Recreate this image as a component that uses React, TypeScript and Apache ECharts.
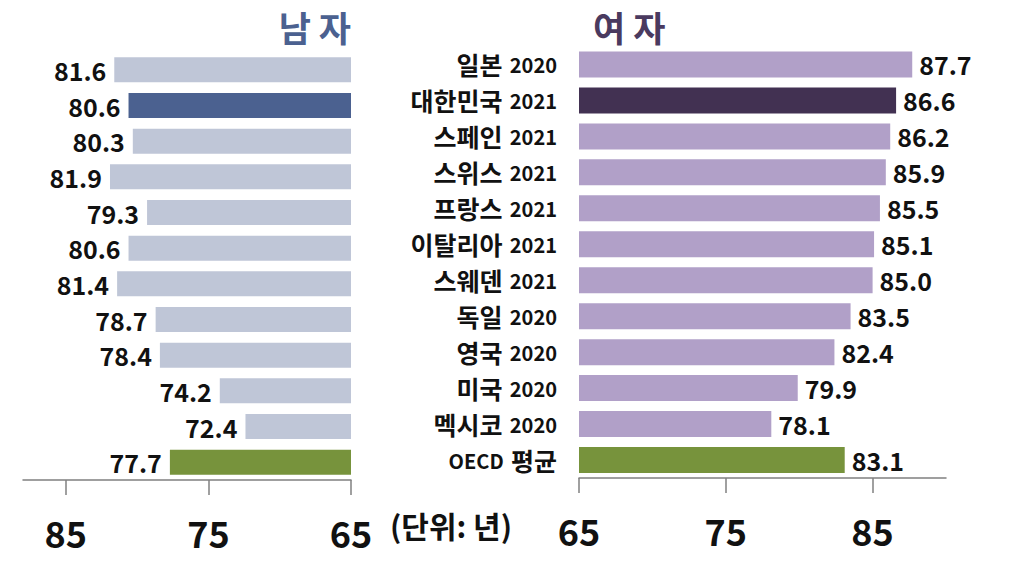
import React, { useEffect, useRef } from "react";
import * as echarts from "echarts";

const categories = [
  "일본 2020",
  "대한민국 2021",
  "스페인 2021",
  "스위스 2021",
  "프랑스 2021",
  "이탈리아 2021",
  "스웨덴 2021",
  "독일 2020",
  "영국 2020",
  "미국 2020",
  "멕시코 2020",
  "OECD 평균",
];
const maleValues = [81.6, 80.6, 80.3, 81.9, 79.3, 80.6, 81.4, 78.7, 78.4, 74.2, 72.4, 77.7];
const femaleValues = [87.7, 86.6, 86.2, 85.9, 85.5, 85.1, 85.0, 83.5, 82.4, 79.9, 78.1, 83.1];
const tickValues = [65, 75, 85];
const maleTitle = "남 자";
const femaleTitle = "여 자";
const unitText = "(단위: 년)";
const highlightIndex = 1;
const averageIndex = 11;

const FONT = "'Noto Sans CJK KR', 'Noto Sans', sans-serif";

export default function App() {
  const ref = useRef<HTMLDivElement>(null);

  useEffect(() => {
    document.body.style.margin = "0";
    if (!ref.current) return;
    const chart = echarts.init(ref.current, undefined, { renderer: "svg" });

    const colorFor = (i: number, light: string, dark: string) =>
      i === averageIndex ? "#77933C" : i === highlightIndex ? dark : light;

    const maleData = maleValues.map((v, i) => ({
      value: v,
      itemStyle: { color: colorFor(i, "#BFC6D7", "#4B6190") },
    }));
    const femaleData = femaleValues.map((v, i) => ({
      value: v,
      itemStyle: { color: colorFor(i, "#B1A0C8", "#423152") },
    }));

    const xAxisCommon = {
      type: "value" as const,
      min: 65,
      interval: 10,
      splitLine: { show: false },
      axisLine: { show: true, lineStyle: { color: "#808080", width: 1.5 } },
      axisTick: {
        show: true,
        customValues: tickValues,
        length: 15,
        lineStyle: { color: "#808080", width: 1.5 },
      },
      axisLabel: {
        customValues: tickValues,
        fontSize: 36,
        fontWeight: "bold" as const,
        color: "#111",
        fontFamily: FONT,
        margin: 34,
      },
    };

    const valueLabel = {
      show: true,
      fontSize: 25,
      fontWeight: "bold" as const,
      fontFamily: FONT,
      color: "#111",
      formatter: (p: any) => Number(p.value).toFixed(1),
    };

    chart.setOption({
      animation: false,
      backgroundColor: "#fff",
      grid: [
        { left: 23, top: 52, width: 328, height: 428 },
        { left: 579, top: 46.5, width: 367, height: 431.5 },
      ],
      xAxis: [
        { ...xAxisCommon, gridIndex: 0, inverse: true, max: 88 },
        { ...xAxisCommon, gridIndex: 1, max: 90 },
      ],
      yAxis: [
        {
          gridIndex: 0,
          type: "category",
          inverse: true,
          data: categories,
          show: false,
        },
        {
          gridIndex: 1,
          type: "category",
          inverse: true,
          data: categories,
          axisLine: { show: false },
          axisTick: { show: false },
          axisLabel: {
            margin: 22,
            color: "#111",
            formatter: (v: string) => {
              const i = v.lastIndexOf(" ");
              const a = v.slice(0, i);
              const b = v.slice(i + 1);
              if (/^[A-Za-z]/.test(a)) return `{y|${a}} {k2|${b}}`;
              return `{k|${a}} {y2|${b}}`;
            },
            rich: {
              k: { fontSize: 25, fontWeight: "bold", fontFamily: FONT, color: "#111" },
              k2: { fontSize: 25, fontWeight: "bold", fontFamily: FONT, color: "#111", padding: [0, 0, 0, 4] },
              y: { fontSize: 20, fontWeight: "bold", fontFamily: FONT, color: "#111" },
              y2: { fontSize: 20, fontWeight: "bold", fontFamily: FONT, color: "#111", padding: [0, 0, 0, 4] },
            },
          },
        },
      ],
      series: [
        {
          type: "bar",
          xAxisIndex: 0,
          yAxisIndex: 0,
          data: maleData,
          barWidth: 25,
          label: { ...valueLabel, position: "left", distance: 8 },
        },
        {
          type: "bar",
          xAxisIndex: 1,
          yAxisIndex: 1,
          data: femaleData,
          barWidth: 26,
          label: { ...valueLabel, position: "right", distance: 7 },
        },
      ],
      graphic: [
        {
          type: "text",
          right: 1011 - 351,
          top: 9,
          style: {
            text: maleTitle,
            fontSize: 35,
            fontWeight: "bold",
            fontFamily: FONT,
            fill: "#4B6190",
          },
        },
        {
          type: "text",
          left: 593,
          top: 9,
          style: {
            text: femaleTitle,
            fontSize: 35,
            fontWeight: "bold",
            fontFamily: FONT,
            fill: "#4A3A5F",
          },
        },
        {
          type: "text",
          left: 390,
          top: 510,
          style: {
            text: unitText,
            fontSize: 30,
            fontWeight: "bold",
            fontFamily: FONT,
            fill: "#111",
          },
        },
      ],
    });

    return () => chart.dispose();
  }, []);

  return <div ref={ref} style={{ width: 1011, height: 575 }} />;
}
